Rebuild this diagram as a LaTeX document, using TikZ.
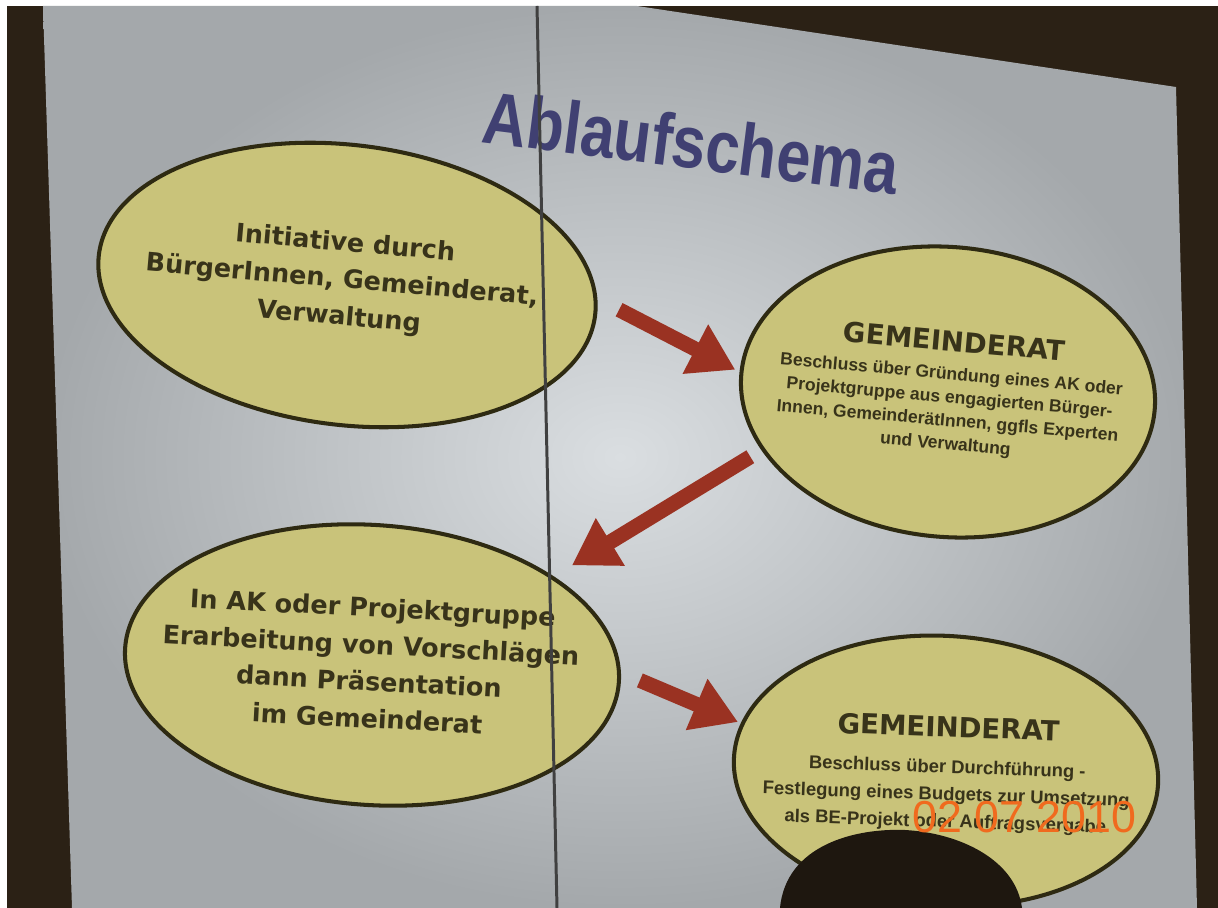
\documentclass[tikz,border=0pt]{standalone}
\usepackage{fontspec}
\usetikzlibrary{shapes.geometric, arrows.meta}
\newfontfamily\ovalfont{DejaVu Sans}
\newfontfamily\armfont{Liberation Sans}
\definecolor{screen}{HTML}{2B2115}
\definecolor{slideinner}{HTML}{DADEE1}
\definecolor{slideouter}{HTML}{A4A8AB}
\definecolor{ovalfill}{HTML}{C9C37A}
\definecolor{ovalline}{HTML}{2E2A12}
\definecolor{ovalink}{HTML}{38331A}
\definecolor{pfeilrot}{HTML}{9A3222}
\definecolor{titelblau}{HTML}{404072}
\definecolor{datum}{HTML}{F06A1E}
\tikzset{oval/.style = {ellipse, draw=ovalline, line width=2.3pt, fill=ovalfill, inner sep=0pt},
         ovaltext/.style = {text=ovalink, align=center, inner sep=0pt,
                            font=\ovalfont\bfseries\fontsize{14.5}{21}\selectfont},
         ratstext/.style = {text=ovalink, align=center, inner sep=0pt,
                            font=\armfont\bfseries\fontsize{10}{13.3}\selectfont},
         pfeil/.style = {draw=pfeilrot, line width=0.3cm, -{Triangle[length=0.9cm, width=1.05cm]}}}

\begin{document}
\begin{tikzpicture}[x=0.02cm, y=-0.02cm]
    \useasboundingbox (0,0) rectangle (1218,908);
    % screen and slide
    \fill[white] (0,0) rectangle (1218,908);
    \fill[screen] (7,6) rectangle (1218,908);
    \shade[inner color=slideinner, outer color=slideouter] (43,6) -- (637,6) -- (1176,87) -- (1197,908) -- (72,908) -- cycle;
    \node[text=titelblau, font=\armfont\bfseries\fontsize{42}{42}\selectfont, anchor=base west,
          inner sep=0pt, rotate=-7.2, xscale=.83] (titel) at (480,142) {Ablaufschema};
    % ovals
    \node[oval, minimum width=10cm, minimum height=5.6cm, rotate=-7] (e1) at (347,285) {};
    \node[oval, minimum width=8.3cm, minimum height=5.8cm, rotate=-5] (e2) at (948,392) {};
    \node[oval, minimum width=9.9cm, minimum height=5.6cm, rotate=-4] (e3) at (372,665) {};
    \node[oval, minimum width=8.5cm, minimum height=5.4cm, rotate=-4] (e4) at (946,771) {};
    \node[ovaltext, rotate=-5] (t1) at (342,281) {Initiative durch\\BürgerInnen, Gemeinderat,\\Verwaltung};
    \node[ratstext, rotate=-5] (t2) at (950,392)
        {{\ovalfont\fontsize{15.7}{19}\selectfont GEMEINDERAT}\\[3pt]
         Beschluss über Gründung eines AK oder\\Projektgruppe aus engagierten Bürger-\\
         Innen, GemeinderätInnen, ggfls Experten\\und Verwaltung};
    \node[ovaltext, rotate=-3] (t3) at (370,663)
        {In AK oder Projektgruppe\\Erarbeitung von Vorschlägen\\dann Präsentation\\im Gemeinderat};
    \node[ratstext, font=\armfont\bfseries\fontsize{10.5}{15.5}\selectfont, rotate=-2] (t4) at (947,774)
        {{\ovalfont\fontsize{15.7}{19}\selectfont GEMEINDERAT}\\[5pt]
         Beschluss über Durchführung -\\Festlegung eines Budgets zur Umsetzung\\
         als BE-Projekt oder Auftragsvergabe};
    % arrows
    \draw[pfeil] ([shift={(22,-6)}]e1.east) -- ([shift={(-4,-4)}]e2.west);
    \draw[pfeil] ([shift={(11,83)}]e2.west) -- ([shift={(190,42)}]e3.north);
    \draw[pfeil] ([shift={(19,-2)}]e3.east) -- ([shift={(6,-34)}]e4.west);
    % cable in front of the screen and head
    \draw[line width=1.7pt, black!75] (537,6) -- (557,908);
    \fill[screen!70!black] (780,908) .. controls (786,845) and (855,828) .. (905,830)
        .. controls (960,833) and (1016,860) .. (1022,908) -- cycle;
    \node[text=datum, font=\armfont\fontsize{25.5}{25.5}\selectfont, anchor=base west, inner sep=0pt]
        (datum) at (912,832) {02 07 2010};
\end{tikzpicture}
\end{document}
